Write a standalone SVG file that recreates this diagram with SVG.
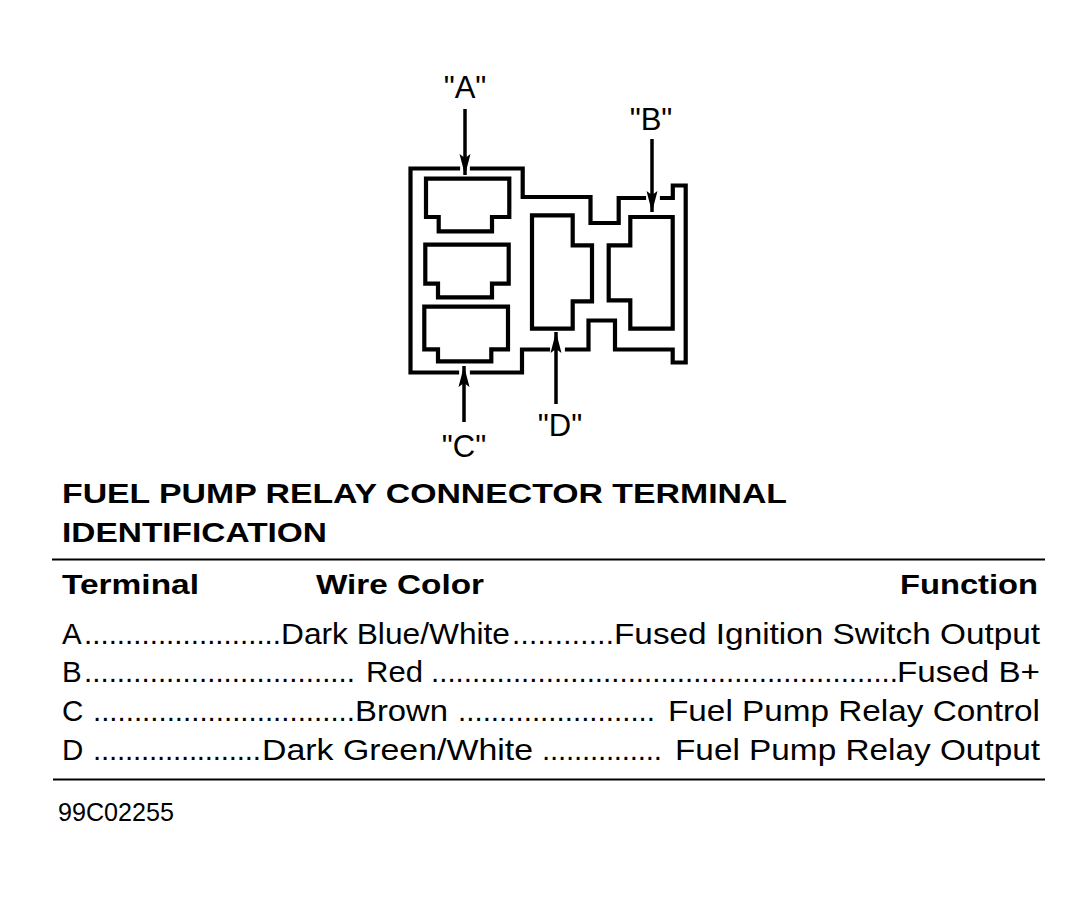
<svg xmlns="http://www.w3.org/2000/svg" width="1083" height="897" viewBox="0 0 1083 897">
<style>
.hs{fill:none;stroke:#000;stroke-width:4.2;stroke-linejoin:miter;stroke-linecap:square}
.ar{fill:none;stroke:#000;stroke-width:3.5}
.lbl{font-family:"Liberation Sans",Arial,sans-serif;font-size:31px;fill:#000;text-anchor:middle}
.tb{font-family:"Liberation Sans",Arial,sans-serif;font-size:28.5px;font-weight:bold;fill:#000}
.tr{font-family:"Liberation Sans",Arial,sans-serif;font-size:29.5px;fill:#000}
.rule{stroke:#000;stroke-width:2}
</style>
<defs>
<marker id="ah" viewBox="-22 -6 23 12" refX="0" refY="0" markerWidth="23" markerHeight="12" markerUnits="userSpaceOnUse" orient="auto">
<path d="M0,0 L-21,-5.5 L-17,0 L-21,5.5 Z" fill="#000"/>
</marker>
</defs>
<rect width="1083" height="897" fill="#fff"/>
<g id="housing">
<path class="hs" d="M458,168.5 L410.5,168.5 L410.5,372.5 L457,372.5 M472,372.5 L522,372.5 L522,349.5 L548,349.5 M567,349.5 L588.5,349.5 L588.5,320.5 L615,320.5 L615,349.5 L672.7,349.5 L672.7,362.5 L685.7,362.5 L685.7,185.5 L672.8,185.5 L672.8,198 L662,198 M644,198 L618.7,198 L618.7,223 L590.5,223 L590.5,197 L522.7,197 L522.7,168.5 L472,168.5"/>
</g>
<g id="slotA">
<path class="hs" d="M426,178.7 L509.3,178.7 L509.3,217 L492,217 L492,231.3 L438.7,231.3 L438.7,217 L426,217 Z"/>
</g>
<g id="slotMid">
<path class="hs" d="M425.3,244.7 L508.7,244.7 L508.7,283.7 L492,283.7 L492,297.3 L438,297.3 L438,283.7 L425.3,283.7 Z"/>
</g>
<g id="slotC">
<path class="hs" d="M424.3,306.7 L508,306.7 L508,349.3 L491.3,349.3 L491.3,361.3 L438,361.3 L438,349.3 L424.3,349.3 Z"/>
</g>
<g id="slotD">
<path class="hs" d="M532,215.3 L572.7,215.3 L572.7,245.3 L592,245.3 L592,301.3 L572.7,301.3 L572.7,328.7 L532,328.7 Z"/>
</g>
<g id="slotB">
<path class="hs" d="M672.7,217 L630.3,217 L630.3,245.3 L608.7,245.3 L608.7,300.3 L630.3,300.3 L630.3,328.7 L672.7,328.7 Z"/>
</g>
<g id="connectors">
<line class="ar" x1="465" y1="109" x2="465" y2="175" marker-end="url(#ah)"/>
<line class="ar" x1="652" y1="139" x2="652" y2="212" marker-end="url(#ah)"/>
<line class="ar" x1="464" y1="422" x2="464" y2="366" marker-end="url(#ah)"/>
<line class="ar" x1="556" y1="404" x2="556" y2="332" marker-end="url(#ah)"/>
</g>
<g id="labelA"><text class="lbl" x="465" y="98">"A"</text></g>
<g id="labelB"><text class="lbl" x="651" y="130">"B"</text></g>
<g id="labelC"><text class="lbl" x="464" y="457">"C"</text></g>
<g id="labelD"><text class="lbl" x="560" y="436">"D"</text></g>
<g id="title">
<text class="tb" x="62" y="503" textLength="725" lengthAdjust="spacingAndGlyphs">FUEL PUMP RELAY CONNECTOR TERMINAL</text>
<text class="tb" x="62" y="542" textLength="265" lengthAdjust="spacingAndGlyphs">IDENTIFICATION</text>
</g>
<g id="table">
<line class="rule" x1="52" y1="559.5" x2="1045" y2="559.5"/>
<text class="tb" x="62" y="594" textLength="137" lengthAdjust="spacingAndGlyphs">Terminal</text>
<text class="tb" x="316" y="594" textLength="168" lengthAdjust="spacingAndGlyphs">Wire Color</text>
<text class="tb" x="900" y="594" textLength="138" lengthAdjust="spacingAndGlyphs">Function</text>

<text class="tr" x="62" y="643.5">A</text>
<text class="tr" x="84" y="643.5" textLength="197" lengthAdjust="spacing">........................</text>
<text class="tr" x="281" y="643.5" textLength="229" lengthAdjust="spacingAndGlyphs">Dark Blue/White</text>
<text class="tr" x="512" y="643.5" textLength="102" lengthAdjust="spacing">............</text>
<text class="tr" x="614" y="643.5" textLength="426" lengthAdjust="spacingAndGlyphs">Fused Ignition Switch Output</text>

<text class="tr" x="62" y="682">B</text>
<text class="tr" x="84" y="682" textLength="271" lengthAdjust="spacing">.................................</text>
<text class="tr" x="366" y="682" textLength="57" lengthAdjust="spacingAndGlyphs">Red</text>
<text class="tr" x="431" y="682" textLength="467" lengthAdjust="spacing">.........................................................</text>
<text class="tr" x="897" y="682" textLength="143" lengthAdjust="spacingAndGlyphs">Fused B+</text>

<text class="tr" x="62" y="721">C</text>
<text class="tr" x="93" y="721" textLength="262" lengthAdjust="spacing">................................</text>
<text class="tr" x="355" y="721" textLength="93" lengthAdjust="spacingAndGlyphs">Brown</text>
<text class="tr" x="458" y="721" textLength="197" lengthAdjust="spacing">........................</text>
<text class="tr" x="668" y="721" textLength="372" lengthAdjust="spacingAndGlyphs">Fuel Pump Relay Control</text>

<text class="tr" x="62" y="759.5">D</text>
<text class="tr" x="93" y="759.5" textLength="168" lengthAdjust="spacing">.....................</text>
<text class="tr" x="262" y="759.5" textLength="271" lengthAdjust="spacingAndGlyphs">Dark Green/White</text>
<text class="tr" x="542" y="759.5" textLength="120" lengthAdjust="spacing">...............</text>
<text class="tr" x="675" y="759.5" textLength="365" lengthAdjust="spacingAndGlyphs">Fuel Pump Relay Output</text>

<line class="rule" x1="53" y1="779.5" x2="1045" y2="779.5"/>
</g>
<g id="code"><text class="tr" x="58" y="821" style="font-size:25px" textLength="116" lengthAdjust="spacingAndGlyphs">99C02255</text></g>
</svg>
